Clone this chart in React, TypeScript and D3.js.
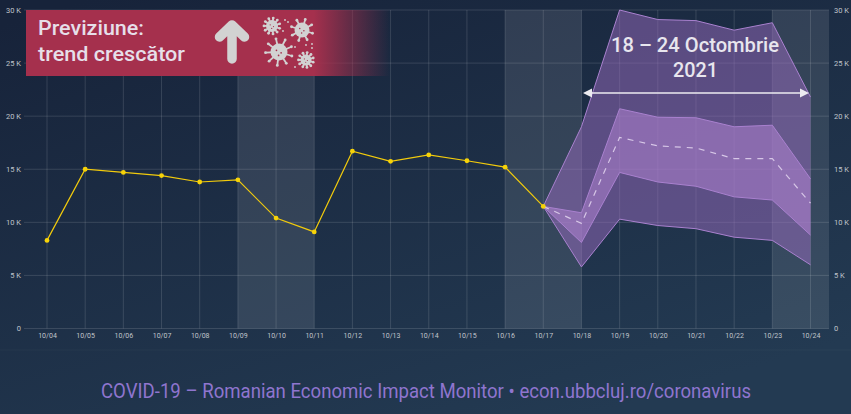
import React, { useRef, useEffect } from 'react';
import * as d3 from 'd3';

const days = ['10/04', '10/05', '10/06', '10/07', '10/08', '10/09', '10/10', '10/11', '10/12', '10/13', '10/14', '10/15', '10/16', '10/17', '10/18', '10/19', '10/20', '10/21', '10/22', '10/23', '10/24'];
const observed = [8300, 15000, 14700, 14400, 13800, 14000, 10400, 9100, 16700, 15750, 16350, 15800, 15200, 11500];
const forecastDays = ['10/17', '10/18', '10/19', '10/20', '10/21', '10/22', '10/23', '10/24'];
const forecast = [11500, 9900, 18000, 17200, 17000, 16000, 16000, 11800];
const outerHigh = [11500, 19000, 30000, 29100, 29000, 28100, 28800, 21800];
const outerLow = [11500, 5800, 10300, 9700, 9400, 8600, 8300, 6000];
const innerHigh = [11500, 10900, 20700, 19900, 19850, 19000, 19150, 14100];
const innerLow = [11500, 8100, 14700, 13800, 13400, 12400, 12100, 8800];
const yTicks = [0, 5000, 10000, 15000, 20000, 25000, 30000];
const weekends = [['10/09', '10/11'], ['10/16', '10/18'], ['10/23', '10/24']];

const FONT = 'Roboto, sans-serif';

const App = () => {
  const Svg = useRef<SVGSVGElement>(null);

  useEffect(() => {
    const svg = d3.select(Svg.current);
    svg.selectAll('*').remove();

    const x = d3.scalePoint<string>().domain(days).range([47, 810.5]);
    const y = d3.scaleLinear().domain([0, 30000]).range([328.5, 10]);
    const fmt = (d: number) => (d === 0 ? '0' : `${d / 1000} K`);

    const defs = svg.append('defs');
    const bg = defs.append('linearGradient').attr('id', 'bg').attr('x1', 0.1).attr('x2', 0.7).attr('y1', 0).attr('y2', 1);
    bg.append('stop').attr('offset', 0).attr('stop-color', '#17233a');
    bg.append('stop').attr('offset', 1).attr('stop-color', '#233a52');
    const fade = defs.append('linearGradient').attr('id', 'fade');
    fade.append('stop').attr('offset', 0.79).attr('stop-color', '#a5304d');
    fade.append('stop').attr('offset', 1).attr('stop-color', '#a5304d').attr('stop-opacity', 0);

    svg.append('rect').attr('width', 851).attr('height', 414).attr('fill', 'url(#bg)');
    svg.append('line').attr('x1', 0).attr('x2', 851).attr('y1', 350).attr('y2', 350).attr('stroke', '#fff').attr('stroke-opacity', 0.03);

    // weekend bands
    svg
      .append('g')
      .selectAll('rect')
      .data(weekends)
      .enter()
      .append('rect')
      .attr('x', (d) => x(d[0])!)
      .attr('y', 10)
      .attr('width', (d) => (d[1] === '10/24' ? 829 : x(d[1])!) - x(d[0])!)
      .attr('height', 318.5)
      .attr('fill', '#fff')
      .attr('opacity', 0.1);

    // grid
    const grid = svg.append('g').attr('stroke', '#fff').attr('stroke-opacity', 0.13);
    grid
      .selectAll('line.h')
      .data(yTicks)
      .enter()
      .append('line')
      .attr('x1', 24)
      .attr('x2', 829)
      .attr('y1', (d) => y(d))
      .attr('y2', (d) => y(d));
    grid
      .selectAll('line.v')
      .data(days)
      .enter()
      .append('line')
      .attr('x1', (d) => x(d)!)
      .attr('x2', (d) => x(d)!)
      .attr('y1', 10)
      .attr('y2', 328.5);

    // axes
    const styleAxis = (g: any, size: number) => {
      g.select('.domain').remove();
      g.selectAll('.tick line').remove();
      g.selectAll('text').attr('fill', '#c0c5cc').attr('font-family', FONT).attr('font-size', size);
    };
    svg
      .append('g')
      .attr('transform', 'translate(21,0)')
      .call(d3.axisLeft(y).tickValues(yTicks).tickFormat(fmt as any).tickSize(0).tickPadding(0))
      .call(styleAxis, 7.5);
    svg
      .append('g')
      .attr('transform', 'translate(832,0)')
      .call(d3.axisRight(y).tickValues(yTicks).tickFormat(fmt as any).tickSize(0).tickPadding(2))
      .call(styleAxis, 7.5);
    svg
      .append('g')
      .attr('transform', 'translate(0,331)')
      .call(d3.axisBottom(x).tickSize(0).tickPadding(2))
      .call(styleAxis, 7);

    // forecast bands
    const area = (hi: number[], lo: number[]) =>
      d3
        .area<string>()
        .x((d) => x(d)!)
        .y0((d, i) => y(lo[i]))
        .y1((d, i) => y(hi[i]))(forecastDays);
    const edge = d3
      .line<number>()
      .x((d, i) => x(forecastDays[i])!)
      .y((d) => y(d));

    svg.append('path').attr('d', area(outerHigh, outerLow)).attr('fill', '#9a6cc0').attr('fill-opacity', 0.5);
    svg.append('path').attr('d', area(innerHigh, innerLow)).attr('fill', '#b184d2').attr('fill-opacity', 0.55);
    [outerHigh, outerLow, innerHigh, innerLow].forEach((s) => {
      svg.append('path').attr('d', edge(s)).attr('fill', 'none').attr('stroke', '#a981cf').attr('stroke-width', 1);
    });
    svg
      .append('path')
      .attr('d', edge(forecast))
      .attr('fill', 'none')
      .attr('stroke', '#d6c6e6')
      .attr('stroke-width', 1.2)
      .attr('stroke-dasharray', '6 6');

    // observed series
    svg
      .append('path')
      .attr(
        'd',
        d3
          .line<number>()
          .x((d, i) => x(days[i])!)
          .y((d) => y(d))(observed)
      )
      .attr('fill', 'none')
      .attr('stroke', '#f2cb0c')
      .attr('stroke-width', 1.2);
    svg
      .append('g')
      .selectAll('circle')
      .data(observed)
      .enter()
      .append('circle')
      .attr('cx', (d, i) => x(days[i])!)
      .attr('cy', (d) => y(d))
      .attr('r', 2.4)
      .attr('fill', '#f7d308');

    // Roboto is wider than the original face, so widths are squeezed to fit
    const label = (s: string, tx: number, ty: number, size: number, w: number, fill: string, weight = 400) =>
      svg
        .append('text')
        .attr('x', tx)
        .attr('y', ty)
        .attr('fill', fill)
        .attr('font-family', FONT)
        .attr('font-size', size)
        .attr('font-weight', weight)
        .attr('textLength', w)
        .attr('lengthAdjust', 'spacingAndGlyphs')
        .text(s);

    // date range note
    label('18 – 24 Octombrie', 611, 52, 21, 168, '#e8e6ee', 500);
    label('2021', 673, 77, 21, 45, '#e8e6ee', 500);
    svg
      .append('line')
      .attr('x1', x('10/18')! + 6)
      .attr('x2', x('10/24')! - 6)
      .attr('y1', 93)
      .attr('y2', 93)
      .attr('stroke', '#ecebf0')
      .attr('stroke-width', 1.6);
    svg.append('path').attr('d', 'M583 93l9-4.5v9z M809 93l-9-4.5v9z').attr('fill', '#ecebf0');

    // banner
    svg.append('rect').attr('x', 26).attr('y', 10).attr('width', 364).attr('height', 66).attr('fill', 'url(#fade)');
    label('Previziune:', 38, 35, 21, 106, '#e6dfe9', 500);
    label('trend crescător', 38, 61, 21, 147, '#e6dfe9', 500);
    svg
      .append('path')
      .attr('d', 'M232 59V25M219.5 37L232 25L244.5 37')
      .attr('fill', 'none')
      .attr('stroke', '#d2d2d2')
      .attr('stroke-width', 9.5)
      .attr('stroke-linecap', 'round')
      .attr('stroke-linejoin', 'round');

    // virus icons
    const virus = (cx: number, cy: number, r: number, spike: number, n: number) => {
      const g = svg.append('g').attr('transform', `translate(${cx},${cy})`);
      g.append('circle').attr('r', r).attr('fill', '#d2d2d2');
      d3.range(n).forEach((i) => {
        const a = (i / n) * Math.PI * 2 + 0.3;
        g.append('line')
          .attr('x2', Math.cos(a) * (r + spike))
          .attr('y2', Math.sin(a) * (r + spike))
          .attr('stroke', '#d2d2d2')
          .attr('stroke-width', 1.8);
        g.append('circle')
          .attr('cx', Math.cos(a) * (r + spike))
          .attr('cy', Math.sin(a) * (r + spike))
          .attr('r', 1.4)
          .attr('fill', '#d2d2d2');
      });
      [[-0.3, -0.2], [0.25, 0.1], [-0.05, 0.4]].forEach(([dx, dy]) => {
        g.append('circle').attr('cx', dx * r).attr('cy', dy * r).attr('r', r * 0.1).attr('fill', '#a5304d');
      });
    };
    virus(272, 26, 6, 2, 11);
    virus(302, 30, 7.5, 3.5, 8);
    virus(279, 52, 8.5, 5, 9);
    virus(306, 60, 5.5, 2, 11);
    const dust = [[285, 20], [283, 31], [288, 22], [295, 47], [306, 45], [312, 44], [295, 67], [312, 48]];
    svg
      .append('g')
      .selectAll('circle')
      .data(dust)
      .enter()
      .append('circle')
      .attr('cx', (d) => d[0])
      .attr('cy', (d) => d[1])
      .attr('r', 0.9)
      .attr('fill', '#d2d2d2');

    // footer
    label('COVID-19 – Romanian Economic Impact Monitor • econ.ubbcluj.ro/coronavirus', 101, 398, 20.5, 650, '#8f75cf');
  }, []);

  return <svg ref={Svg} width={851} height={414} style={{ position: 'absolute', left: 0, top: 0 }} />;
};

export default App;
